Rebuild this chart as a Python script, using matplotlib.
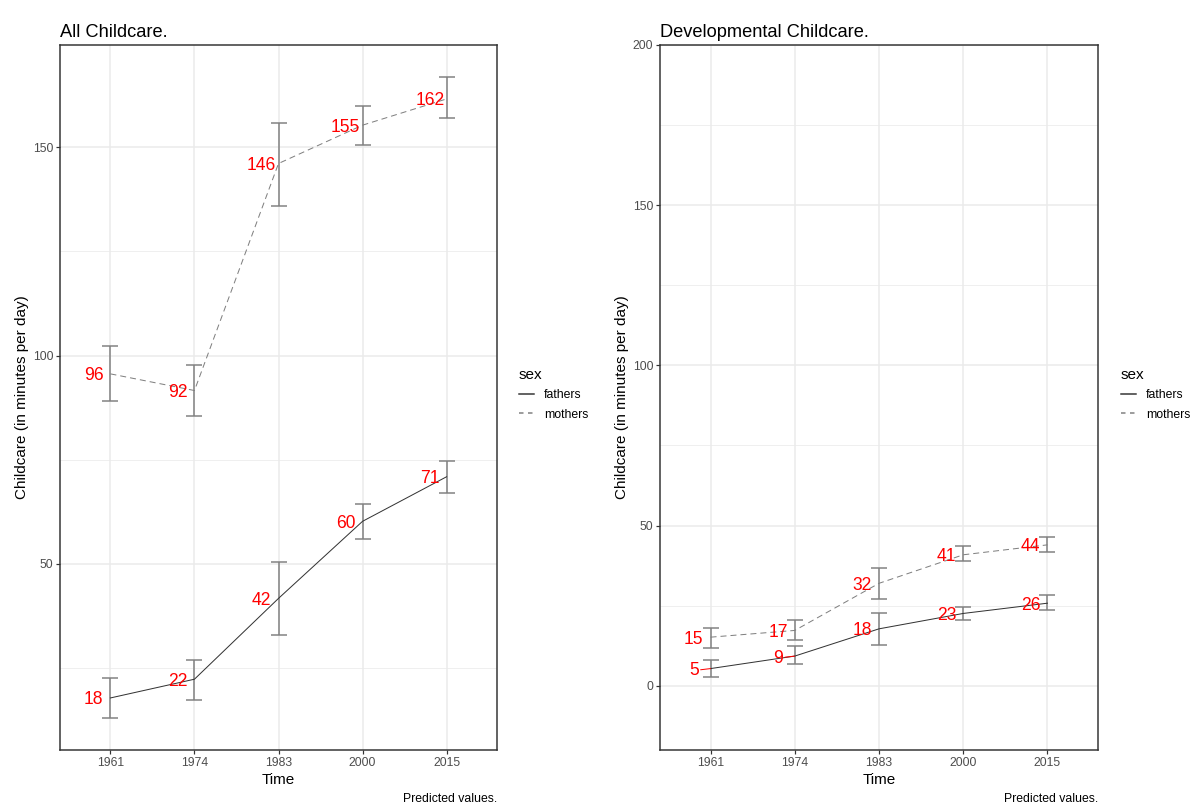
import matplotlib
matplotlib.use("Agg")
import matplotlib.pyplot as plt
from matplotlib.lines import Line2D
import numpy as np

plt.rcParams["font.family"] = ["Liberation Sans", "DejaVu Sans"]

# Data
years = ["1961", "1974", "1983", "2000", "2015"]

all_fathers = [17.8, 22.3, 41.7, 60.2, 70.9]
all_fathers_lo = [13.0, 17.4, 33.0, 56.0, 67.0]
all_fathers_hi = [22.6, 27.0, 50.4, 64.4, 74.8]
all_mothers = [95.6, 91.6, 146.1, 155.3, 161.6]
all_mothers_lo = [89.0, 85.4, 136.0, 150.6, 157.0]
all_mothers_hi = [102.2, 97.8, 155.9, 160.0, 166.9]

dev_fathers = [5.4, 9.3, 17.8, 22.6, 25.8]
dev_fathers_lo = [2.7, 6.9, 12.8, 20.5, 23.7]
dev_fathers_hi = [8.0, 12.3, 22.7, 24.7, 28.2]
dev_mothers = [15.2, 17.3, 32.0, 40.9, 44.0]
dev_mothers_lo = [11.9, 14.3, 27.1, 39.0, 41.7]
dev_mothers_hi = [18.2, 20.4, 36.8, 43.5, 46.3]

# work in pixels: at 72 dpi one point is one pixel
DPI = 72
W, H = 1193, 806
fig = plt.figure(figsize=(W / DPI, H / DPI), dpi=DPI)

FATHER_COL = "#333333"
MOTHER_COL = "#7F7F7F"
TICK_COL = "#4D4D4D"
SMALL = 12.2
MEDIUM = 15.3


def draw_panel(ax, title, series, ylim, majors, minors):
    x = np.arange(len(years))
    for vals, lo, hi, col, ls in series:
        vals, lo, hi = np.array(vals), np.array(lo), np.array(hi)
        ax.errorbar(x, vals, yerr=[vals - lo, hi - vals], fmt="none", ecolor="#808080",
                    elinewidth=1.5, capsize=8.3, capthick=1.5, zorder=2)
        line, = ax.plot(x, vals, color=col, lw=1.0, zorder=3)
        if ls == "dashed":
            line.set_dashes((6, 4))
        for xi, v in zip(x, vals):
            lab = f"{v:.0f}"
            # ggrepel-like: segment only when label sits far from its point
            props = dict(arrowstyle="-", color="red", lw=1.0, shrinkA=0, shrinkB=0) if len(lab) < 2 else None
            ax.annotate(lab, xy=(xi, v), xytext=(-16.8, 0), textcoords="offset points",
                        ha="center", va="center_baseline", color="red", fontsize=17.5,
                        arrowprops=props, zorder=4)

    ax.set_xlim(-0.6, len(years) - 0.4)
    ax.set_ylim(*ylim)
    ax.set_xticks(x)
    ax.set_xticklabels(years)
    ax.set_yticks(majors)
    ax.set_yticks(minors, minor=True)
    ax.grid(True, which="major", color="#EBEBEB", lw=1.5, zorder=0)
    ax.grid(True, which="minor", axis="y", color="#EBEBEB", lw=0.75, zorder=0)
    ax.set_axisbelow(True)
    ax.tick_params(which="major", length=3.8, width=1.2, color="#333333",
                   labelsize=SMALL, labelcolor=TICK_COL, pad=3.0)
    ax.tick_params(which="minor", length=0)
    for s in ax.spines.values():
        s.set_color("#333333")
        s.set_linewidth(1.5)
    ax.set_title(title, loc="left", fontsize=18.3, pad=7.6)
    ax.set_xlabel("Time", fontsize=MEDIUM, labelpad=3.8)
    ax.set_ylabel("Childcare (in minutes per day)", fontsize=MEDIUM, labelpad=3.8)


def expand(lo, hi, frac=0.05):
    span = hi - lo
    return lo - frac * span, hi + frac * span


ax_bottom = 1 - 750 / H
ax_height = (750 - 44.8) / H

ax1 = fig.add_axes([60 / W, ax_bottom, (497 - 60) / W, ax_height])
all_lo = min(all_fathers_lo + all_mothers_lo)
all_hi = max(all_fathers_hi + all_mothers_hi)
draw_panel(ax1, "All Childcare.",
           [(all_fathers, all_fathers_lo, all_fathers_hi, FATHER_COL, "solid"),
            (all_mothers, all_mothers_lo, all_mothers_hi, MOTHER_COL, "dashed")],
           expand(all_lo, all_hi), [50, 100, 150], [25, 75, 125])

ax2 = fig.add_axes([660 / W, ax_bottom, (1098 - 660) / W, ax_height])
draw_panel(ax2, "Developmental Childcare.",
           [(dev_fathers, dev_fathers_lo, dev_fathers_hi, FATHER_COL, "solid"),
            (dev_mothers, dev_mothers_lo, dev_mothers_hi, MOTHER_COL, "dashed")],
           (-20, 200), [0, 50, 100, 150, 200], [25, 75, 125, 175])

handles = [Line2D([], [], color=FATHER_COL, lw=1.5),
           Line2D([], [], color=MOTHER_COL, lw=1.5, dashes=(3, 3))]
for lx in (519, 1121):
    leg = fig.legend(handles, ["fathers", "mothers"], title="sex", loc="upper left",
                     bbox_to_anchor=(lx / W, 1 - 368 / H), frameon=False, fontsize=SMALL,
                     title_fontsize=MEDIUM, handlelength=1.23, handletextpad=0.82,
                     labelspacing=0.6, borderpad=0, borderaxespad=0, alignment="left")

for rx in (497, 1098):
    fig.text(rx / W, 1 - 799 / H, "Predicted values.", ha="right", va="center", fontsize=SMALL)

fig.savefig("out.png", dpi=DPI)
